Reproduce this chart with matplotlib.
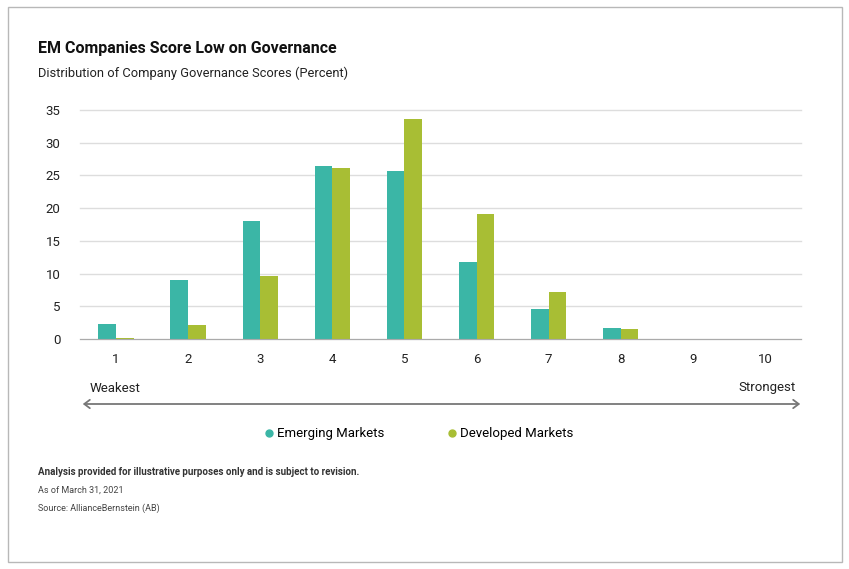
import matplotlib.pyplot as plt
from matplotlib.patches import Rectangle, FancyArrowPatch
from matplotlib.lines import Line2D

plt.rcParams['font.family'] = ['Roboto', 'DejaVu Sans']

scores = [1, 2, 3, 4, 5, 6, 7, 8, 9, 10]
emerging = [2.3, 9.0, 18.0, 26.4, 25.7, 11.8, 4.6, 1.7, 0.0, 0.0]
developed = [0.2, 2.1, 9.6, 26.1, 33.7, 19.1, 7.2, 1.6, 0.05, 0.0]
yticks = [0, 5, 10, 15, 20, 25, 30, 35]

EM_COLOR = '#3bb6a6'
DM_COLOR = '#a8be34'
W, H = 849, 569

fig = plt.figure(figsize=(W / 100, H / 100), dpi=100)
fig.patches.append(Rectangle((8 / W, 7 / H), 834 / W, 555 / H, transform=fig.transFigure,
                             fill=False, edgecolor='#b8b8b8', linewidth=1))

ax = fig.add_axes([80 / W, (H - 339) / H, 721 / W, 229 / H])
bw = 0.245
xs = list(range(len(scores)))
ax.bar([x + 1 - bw / 2 for x in xs], emerging, width=bw, color=EM_COLOR, zorder=3)
ax.bar([x + 1 + bw / 2 for x in xs], developed, width=bw, color=DM_COLOR, zorder=3)

ax.set_xlim(0.5, 10.5)
ax.set_ylim(0, 35)
ax.set_yticks(yticks)
ax.set_xticks(scores)
ax.set_xticklabels([str(s) for s in scores])
ax.grid(axis='y', color='#dddddd', linewidth=1, zorder=0)
ax.set_axisbelow(True)
for s in ['top', 'right', 'left']:
    ax.spines[s].set_visible(False)
ax.spines['bottom'].set_color('#aaaaaa')
ax.spines['bottom'].set_zorder(4)
ax.tick_params(axis='both', length=0, labelsize=9.5, colors='#222222')
ax.tick_params(axis='x', pad=10)
ax.tick_params(axis='y', pad=14)
for g in ax.get_ygridlines():
    g.set_clip_on(False)

fig.text(38 / W, 1 - 48 / H, 'EM Companies Score Low on Governance', fontsize=11.5,
         fontweight='bold', va='center', color='#111111')
fig.text(38 / W, 1 - 73 / H, 'Distribution of Company Governance Scores (Percent)', fontsize=9.3,
         va='center', color='#222222')

# weakest/strongest arrow
fig.patches.append(FancyArrowPatch(
    (80 / W, 1 - 404 / H), (803 / W, 1 - 404 / H), transform=fig.transFigure,
    arrowstyle='<->,head_length=4,head_width=3', color='#777777', linewidth=1.3))
fig.text(90 / W, 1 - 388 / H, 'Weakest', fontsize=9.5, va='center', color='#222222')
fig.text(796 / W, 1 - 388 / H, 'Strongest', fontsize=9.5, va='center', ha='right', color='#222222')

handles = [Line2D([], [], marker='o', linestyle='', color=EM_COLOR, markersize=5),
           Line2D([], [], marker='o', linestyle='', color=DM_COLOR, markersize=5)]
fig.legend(handles, ['Emerging Markets', 'Developed Markets'], loc='center',
           bbox_to_anchor=(418 / W, 1 - 434 / H), ncol=2, frameon=False, fontsize=9.5,
           handletextpad=0.1, columnspacing=4.6, handlelength=1.0)

fig.text(38 / W, 1 - 472 / H, 'Analysis provided for illustrative purposes only and is subject to revision.',
         fontsize=7, fontweight='bold', va='center', color='#333333')
fig.text(38 / W, 1 - 490 / H, 'As of March 31, 2021', fontsize=6.5, va='center', color='#444444')
fig.text(38 / W, 1 - 508 / H, 'Source: AllianceBernstein (AB)', fontsize=6.5, va='center', color='#444444')

fig.savefig('out.png', dpi=100)
